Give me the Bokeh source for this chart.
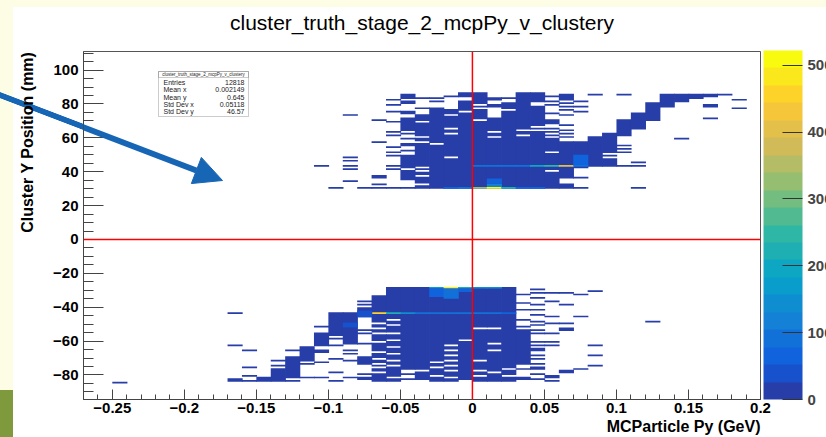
import numpy as np
from bokeh.plotting import figure
from bokeh.models import (ColumnDataSource, LinearColorMapper, ColorBar, FixedTicker, Title,
                          Span, Label, Arrow, NormalHead, BoxAnnotation, GlobalInlineStyleSheet)
from bokeh.embed import file_html
from bokeh.resources import INLINE

# ---------------- texts ----------------
TITLE = "cluster_truth_stage_2_mcpPy_v_clustery"
X_LABEL = "MCParticle Py (GeV)"
Y_LABEL = "Cluster Y Position (mm)"
X_TICKS = [-0.25, -0.2, -0.15, -0.1, -0.05, 0.0, 0.05, 0.1, 0.15, 0.2]
X_TICK_LABELS = ["\u22120.25", "\u22120.2", "\u22120.15", "\u22120.1", "\u22120.05", "0", "0.05", "0.1", "0.15", "0.2"]
Y_TICKS = [-80, -60, -40, -20, 0, 20, 40, 60, 80, 100]
Y_TICK_LABELS = ["\u221280", "\u221260", "\u221240", "\u221220", "0", "20", "40", "60", "80", "100"]
Z_TICKS = [0, 100, 200, 300, 400, 500]
STATS_NAMES = ["Entries", "Mean x", "Mean y", "Std Dev x", "Std Dev y"]
STATS_VALUES = ["12818", "0.002149", "0.645", "0.05118", "46.57"]

X_RANGE = (-0.27, 0.2)
Y_RANGE = (-94.5, 111.0)
Z_MAX = 522
BIN_W = 0.01
LOW_COUNT = 10

# ---------------- histogram cells: (x bin low edge, y low, y high) ----------------
upper_cells = [
    (-0.11, 43, 44),
    (-0.10, 30, 31),
    (-0.09, 73, 74), (-0.09, 48, 49), (-0.09, 46, 47), (-0.09, 43, 44), (-0.09, 41, 42), (-0.09, 34, 35),
    (-0.08, 30, 31),
    (-0.07, 70, 71), (-0.07, 57, 58), (-0.07, 36, 38), (-0.07, 32, 33), (-0.07, 30, 31),
    (-0.06, 82, 83), (-0.06, 79, 80), (-0.06, 75, 76), (-0.06, 69, 70), (-0.06, 63, 64), (-0.06, 61, 62),
    (-0.06, 54, 55), (-0.06, 51, 52), (-0.06, 49, 50), (-0.06, 43, 44), (-0.06, 41, 42), (-0.06, 30, 31),
    (-0.05, 83, 86), (-0.05, 80, 82), (-0.05, 74, 76), (-0.05, 64, 72), (-0.05, 62, 63), (-0.05, 59, 60),
    (-0.05, 55, 57), (-0.05, 52, 53), (-0.05, 42, 50), (-0.05, 35, 41), (-0.05, 30, 31),
    (-0.04, 83, 84), (-0.04, 77, 78), (-0.04, 70, 74), (-0.04, 61, 69), (-0.04, 58, 60), (-0.04, 43, 57),
    (-0.04, 41, 42), (-0.04, 38, 40), (-0.04, 33, 37), (-0.04, 30, 32),
    (-0.03, 83, 84), (-0.03, 81, 82), (-0.03, 57, 78), (-0.03, 30, 56),
    (-0.02, 84, 85), (-0.02, 74, 77), (-0.02, 66, 73), (-0.02, 63, 65), (-0.02, 49, 62), (-0.02, 30, 48),
    (-0.01, 84, 87), (-0.01, 76, 82), (-0.01, 30, 75),
    (0.00, 80, 87), (0.00, 78, 79), (0.00, 71, 77), (0.00, 30, 70),
    (0.01, 82, 84), (0.01, 78, 80), (0.01, 64, 72), (0.01, 61, 63), (0.01, 30, 60),
    (0.02, 83, 84), (0.02, 77, 81), (0.02, 30, 76),
    (0.03, 65, 87), (0.03, 62, 64), (0.03, 30, 61),
    (0.04, 81, 87), (0.04, 67, 79), (0.04, 65, 66), (0.04, 30, 64),
    (0.05, 84, 85), (0.05, 81, 82), (0.05, 79, 80), (0.05, 74, 75), (0.05, 68, 71), (0.05, 65, 66),
    (0.05, 63, 64), (0.05, 61, 62), (0.05, 52, 60), (0.05, 41, 51), (0.05, 30, 40),
    (0.06, 82, 86), (0.06, 80, 81), (0.06, 78, 79), (0.06, 76, 77), (0.06, 73, 74), (0.06, 67, 68),
    (0.06, 64, 65), (0.06, 62, 63), (0.06, 60, 61), (0.06, 36, 58), (0.06, 30, 33),
    (0.07, 81, 82), (0.07, 78, 79), (0.07, 75, 76), (0.07, 42, 58), (0.07, 36, 37), (0.07, 30, 31),
    (0.08, 85, 86), (0.08, 43, 61),
    (0.09, 51, 63), (0.09, 49, 50), (0.09, 43, 48),
    (0.10, 85, 86), (0.10, 61, 71), (0.10, 55, 56), (0.10, 53, 54), (0.10, 51, 52), (0.10, 43, 44),
    (0.11, 65, 75), (0.11, 45, 46), (0.11, 43, 44), (0.11, 30, 31),
    (0.12, 70, 81),
    (0.13, 78, 86),
    (0.14, 81, 86), (0.14, 59, 60),
    (0.15, 83, 86),
    (0.16, 84, 86), (0.16, 78, 80), (0.16, 71, 72),
    (0.17, 85, 86),
    (0.18, 82, 83), (0.18, 77, 78),
]

lower_cells = [
    (-0.25, -85, -84),
    (-0.17, -44, -43), (-0.17, -63, -62), (-0.17, -84, -82),
    (-0.16, -66, -65), (-0.16, -76, -75), (-0.16, -81, -80), (-0.16, -84, -83),
    (-0.15, -84, -81),
    (-0.14, -72, -71), (-0.14, -75, -74), (-0.14, -84, -76),
    (-0.13, -66, -65), (-0.13, -82, -69), (-0.13, -84, -83),
    (-0.12, -72, -63), (-0.12, -74, -73), (-0.12, -82, -81),
    (-0.11, -52, -51), (-0.11, -63, -55), (-0.11, -67, -65), (-0.11, -73, -72), (-0.11, -82, -81),
    (-0.10, -57, -43), (-0.10, -59, -58), (-0.10, -63, -62), (-0.10, -71, -70), (-0.10, -79, -78), (-0.10, -84, -83),
    (-0.09, -62, -43), (-0.09, -66, -65), (-0.09, -68, -67), (-0.09, -72, -71), (-0.09, -82, -81),
    (-0.08, -37, -36), (-0.08, -39, -38), (-0.08, -46, -40), (-0.08, -54, -53), (-0.08, -56, -55),
    (-0.08, -62, -61), (-0.08, -74, -69), (-0.08, -80, -79), (-0.08, -83, -81),
    (-0.07, -49, -33), (-0.07, -52, -50), (-0.07, -55, -53), (-0.07, -60, -56), (-0.07, -66, -61),
    (-0.07, -70, -67), (-0.07, -73, -71), (-0.07, -75, -74), (-0.07, -78, -76), (-0.07, -84, -79),
    (-0.06, -47, -28), (-0.06, -50, -48), (-0.06, -55, -51), (-0.06, -59, -56), (-0.06, -63, -60),
    (-0.06, -67, -64), (-0.06, -71, -68), (-0.06, -74, -72), (-0.06, -81, -75), (-0.06, -84, -82),
    (-0.05, -77, -28), (-0.05, -80, -79), (-0.05, -83, -82),
    (-0.04, -77, -28), (-0.04, -83, -78),
    (-0.03, -72, -28), (-0.03, -75, -73), (-0.03, -80, -76), (-0.03, -84, -81),
    (-0.02, -62, -28), (-0.02, -65, -63), (-0.02, -68, -66), (-0.02, -71, -69), (-0.02, -74, -72),
    (-0.02, -77, -75), (-0.02, -81, -78), (-0.02, -84, -82),
    (-0.01, -59, -28), (-0.01, -83, -60),
    (0.00, -52, -28), (0.00, -71, -53), (0.00, -77, -72), (0.00, -80, -78), (0.00, -84, -81),
    (0.01, -52, -28), (0.01, -61, -53), (0.01, -65, -62), (0.01, -78, -66), (0.01, -84, -79),
    (0.02, -76, -28), (0.02, -80, -77), (0.02, -84, -81),
    (0.03, -33, -32), (0.03, -38, -37), (0.03, -42, -41), (0.03, -48, -47), (0.03, -52, -51),
    (0.03, -74, -53), (0.03, -77, -76), (0.03, -83, -81),
    (0.04, -30, -29), (0.04, -32, -31), (0.04, -35, -34), (0.04, -39, -38), (0.04, -42, -41),
    (0.04, -45, -44), (0.04, -49, -48), (0.04, -51, -50), (0.04, -54, -53), (0.04, -56, -55),
    (0.04, -61, -60), (0.04, -63, -62), (0.04, -66, -64), (0.04, -69, -68), (0.04, -71, -70),
    (0.04, -74, -73), (0.04, -77, -75), (0.04, -80, -79), (0.04, -83, -82),
    (0.05, -32, -31), (0.05, -37, -36), (0.05, -46, -45), (0.05, -50, -49), (0.05, -56, -55),
    (0.05, -61, -60), (0.05, -63, -62), (0.05, -82, -80), (0.05, -84, -83),
    (0.06, -32, -31), (0.06, -39, -38), (0.06, -50, -49), (0.06, -54, -52), (0.06, -79, -77),
    (0.07, -33, -32), (0.07, -46, -45), (0.07, -77, -76),
    (0.08, -31, -30), (0.08, -63, -62), (0.08, -69, -68), (0.08, -75, -74),
    (0.12, -49, -48),
]

# cells with higher counts: (x bin low edge, y low, y high, count)
hot_cells = [
    (-0.02, 30, 31, 60), (-0.01, 30, 31, 80), (0.00, 30, 31, 330), (0.01, 30, 31, 500),
    (0.02, 30, 31, 230), (0.03, 30, 31, 60), (0.04, 30, 31, 70),
    (0.01, 31, 33, 120), (0.01, 33, 36, 60),
    (0.00, 43, 44, 80), (0.01, 43, 44, 90), (0.02, 43, 44, 100), (0.03, 43, 44, 80),
    (0.04, 43, 44, 200), (0.05, 43, 44, 240), (0.06, 43, 44, 400), (0.07, 43, 44, 90),
    (0.07, 44, 50, 60),
    (-0.03, -29, -28, 180), (-0.02, -29, -28, 500), (-0.01, -29, -28, 210),
    (0.00, -29, -28, 150), (0.01, -29, -28, 140),
    (-0.03, -34, -29, 60), (-0.02, -35, -29, 80), (-0.01, -31, -29, 60),
    (-0.08, -44, -43, 60), (-0.07, -44, -43, 460), (-0.06, -44, -43, 230), (-0.05, -44, -43, 140),
    (-0.04, -44, -43, 90), (-0.03, -44, -43, 90), (-0.02, -44, -43, 90), (-0.01, -44, -43, 90),
    (0.00, -44, -43, 90), (0.01, -44, -43, 90), (0.02, -44, -43, 60),
    (-0.08, -46, -42, 50), (-0.09, -52, -49, 50),
]

# ---------------- palette (ROOT kBird, 20 contour levels as ROOT samples them) ----------------
BIRD_STOPS = [0.0, 0.125, 0.25, 0.375, 0.5, 0.625, 0.75, 0.875, 1.0]
BIRD_R = [0.2082, 0.0592, 0.0780, 0.0232, 0.1802, 0.5301, 0.8186, 0.9956, 0.9764]
BIRD_G = [0.1664, 0.3599, 0.5041, 0.6419, 0.7178, 0.7492, 0.7328, 0.7862, 0.9832]
BIRD_B = [0.5293, 0.8684, 0.8385, 0.7914, 0.6425, 0.4662, 0.3499, 0.1968, 0.0539]
N_LEVELS = 20
N_COLORS = 255
palette = []
for i in range(N_LEVELS):
    t = min(int((i + 0.99) * N_COLORS / N_LEVELS) / (N_COLORS - 1), 1.0)
    r, g, b = (np.interp(t, BIRD_STOPS, c) for c in (BIRD_R, BIRD_G, BIRD_B))
    palette.append("#%02x%02x%02x" % (int(round(r * 255)), int(round(g * 255)), int(round(b * 255))))

# ---------------- table ----------------
SEAM = 0.0005  # tiny horizontal overlap so neighbouring bins render without hairline gaps
left, right, bottom, top, count = [], [], [], [], []
for x, y0, y1 in upper_cells + lower_cells:
    left.append(x); right.append(x + BIN_W + SEAM); bottom.append(y0); top.append(y1); count.append(LOW_COUNT)
for x, y0, y1, n in hot_cells:
    left.append(x); right.append(x + BIN_W + SEAM); bottom.append(y0); top.append(y1); count.append(n)
src = ColumnDataSource(dict(left=left, right=right, bottom=bottom, top=top, count=count))

# ---------------- layout (page pixels) ----------------
FIG_W, FIG_H = 826, 437
FRAME_L, FRAME_R, FRAME_T, FRAME_B = 83, 760, 51, 399


def xd(px):
    return X_RANGE[0] + (px - FRAME_L) * (X_RANGE[1] - X_RANGE[0]) / (FRAME_R - FRAME_L)


def yd(py):
    return Y_RANGE[1] - (py - FRAME_T) * (Y_RANGE[1] - Y_RANGE[0]) / (FRAME_B - FRAME_T)


FONT = "Liberation Sans"
p = figure(width=FIG_W, height=FIG_H, x_range=X_RANGE, y_range=Y_RANGE,
           output_backend="svg", toolbar_location=None,
           min_border_left=FRAME_L, min_border_right=FIG_W - FRAME_R,
           min_border_top=FRAME_T, min_border_bottom=FIG_H - FRAME_B)
p.title.text = TITLE
p.title.align = "center"
p.title.vertical_align = "bottom"
p.title.text_font = FONT
p.title.text_font_style = "normal"
p.title.text_font_size = "21px"
p.title.text_color = "black"
p.title.standoff = 2
# small spacer between the title and the frame
p.add_layout(Title(text=" ", text_font_size="1px", standoff=14), "above")
p.border_fill_alpha = 0
p.background_fill_color = "white"
p.outline_line_color = "#555555"
p.xgrid.visible = False
p.ygrid.visible = False

ARROW_COLOR = "#1766b5"
css = ("body { background: "
       "linear-gradient(200.9deg, transparent 50.2px, " + ARROW_COLOR + " 50.9px, " + ARROW_COLOR +
       " 55.9px, transparent 56.6px) 0 70px / 84px 80px no-repeat, "
       "linear-gradient(#7f9a3c,#7f9a3c) 0 390px / 13px 47px no-repeat, "
       "linear-gradient(#fdfde6,#fdfde6) 0 0 / 100% 7px no-repeat, "
       "linear-gradient(#fdfde6,#fdfde6) 0 0 / 13px 100% no-repeat, #ffffff; }")
p.stylesheets = [GlobalInlineStyleSheet(css=css)]

mapper = LinearColorMapper(palette=palette, low=0, high=Z_MAX)
p.quad(left="left", right="right", bottom="bottom", top="top", source=src,
       fill_color={"field": "count", "transform": mapper}, line_color=None)

p.add_layout(Span(location=0, dimension="height", line_color="#ff0000", line_width=1.5))
p.add_layout(Span(location=0, dimension="width", line_color="#ff0000", line_width=1.5))

# axes
p.xaxis.ticker = FixedTicker(ticks=X_TICKS, minor_ticks=[round(-0.27 + 0.01 * i, 2) for i in range(48)])
p.xaxis.major_label_overrides = {t: s for t, s in zip(X_TICKS, X_TICK_LABELS)}
p.yaxis.ticker = FixedTicker(ticks=Y_TICKS, minor_ticks=list(range(-90, 111, 5)))
p.yaxis.major_label_overrides = {t: s for t, s in zip(Y_TICKS, Y_TICK_LABELS)}
for ax in (p.xaxis, p.yaxis):
    ax.major_label_text_font = FONT
    ax.major_label_text_font_style = "bold"
    ax.major_label_text_font_size = "15px"
    ax.major_label_text_color = "black"
    ax.axis_line_color = "#444444"
    ax.major_tick_line_color = "#444444"
    ax.minor_tick_line_color = "#444444"
    ax.major_tick_out = 0
    ax.minor_tick_out = 0
p.xaxis.major_tick_in = 10
p.xaxis.minor_tick_in = 5
p.xaxis.major_label_standoff = 3
p.yaxis.major_tick_in = 20
p.yaxis.minor_tick_in = 10
p.yaxis.major_label_standoff = 5

# axis titles (right / top aligned, as ROOT draws them)
p.add_layout(Title(text=X_LABEL, align="right", text_font=FONT, text_font_style="bold",
                   text_font_size="16px", text_color="black", standoff=0), "below")
p.add_layout(Title(text=Y_LABEL, align="right", text_font=FONT, text_font_style="bold",
                   text_font_size="16px", text_color="black", standoff=30), "left")

# colour bar
cb = ColorBar(color_mapper=mapper, location=(FRAME_R - FRAME_L + 3, 0), width=39,
              height=FRAME_B - FRAME_T + 1, padding=0, margin=0,
              ticker=FixedTicker(ticks=Z_TICKS), major_tick_in=20, major_tick_out=0,
              major_tick_line_color="#333333", minor_tick_line_color=None,
              major_label_text_font=FONT, major_label_text_font_style="bold",
              major_label_text_font_size="15px", label_standoff=5,
              bar_line_color=None, border_line_color=None, background_fill_alpha=0)
p.add_layout(cb, "center")

# stats box
SB_L, SB_R, SB_T, SB_B = 158, 248, 71, 116
p.add_layout(BoxAnnotation(left=xd(SB_L), right=xd(SB_R), top=yd(SB_T), bottom=yd(SB_B),
                           fill_color="white", fill_alpha=1, line_color="#555555", line_width=1))
p.add_layout(BoxAnnotation(left=xd(SB_L), right=xd(SB_R), top=yd(SB_T), bottom=yd(SB_T + 6),
                           fill_alpha=0, line_color="#555555", line_width=1))
p.add_layout(Label(x=xd((SB_L + SB_R) / 2), y=yd(SB_T + 3), text=TITLE, text_align="center",
                   text_baseline="middle", text_font=FONT, text_font_size="4.5px", text_color="#222222"))
for i, (nm, vl) in enumerate(zip(STATS_NAMES, STATS_VALUES)):
    yy = yd(82 + i * 7.3)
    p.add_layout(Label(x=xd(SB_L + 5), y=yy, text=nm, text_align="left", text_baseline="middle",
                       text_font=FONT, text_font_size="7px", text_color="#222222"))
    p.add_layout(Label(x=xd(SB_R - 4), y=yy, text=vl, text_align="right", text_baseline="middle",
                       text_font=FONT, text_font_size="7px", text_color="#222222"))

# overlay arrow (its tail outside the frame is painted by the page background above)
ARROW_START = (0, 95)
ARROW_END = (222, 180)
p.add_layout(Arrow(end=NormalHead(size=28, fill_color=ARROW_COLOR, line_color=ARROW_COLOR),
                   x_start=xd(ARROW_START[0]), y_start=yd(ARROW_START[1]),
                   x_end=xd(ARROW_END[0]), y_end=yd(ARROW_END[1]),
                   line_color=ARROW_COLOR, line_width=6))

open("out.html", "w").write(file_html(p, INLINE))
